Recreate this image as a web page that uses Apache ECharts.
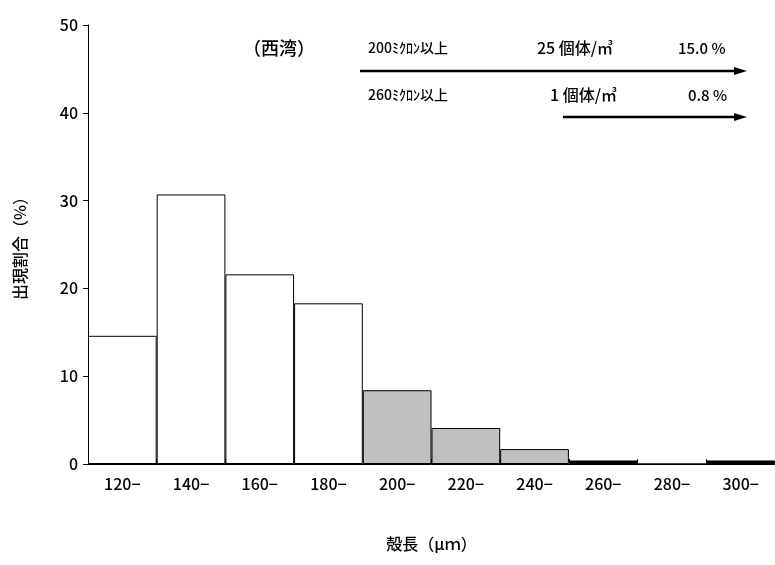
<!DOCTYPE html>
<html style="height: 100%">
<head><meta charset="utf-8"></head>
<body style="height: 100%; margin: 0">
<div id="container" style="height: 100%"></div>
<script src="https://cdn.jsdelivr.net/npm/echarts@6/dist/echarts.min.js"></script>
<script>
var categories = ['120−', '140−', '160−', '180−', '200−', '220−', '240−', '260−', '280−', '300−'];
var values = [14.6, 30.7, 21.6, 18.3, 8.4, 4.1, 1.7, 0.4, 0, 0.4];
var fills = ['#ffffff', '#ffffff', '#ffffff', '#ffffff', '#c0c0c0', '#c0c0c0', '#c0c0c0', '#000000', '#000000', '#000000'];

var font = '"Noto Sans CJK JP", sans-serif';
var myChart = echarts.init(document.getElementById('container'));

function arrow(x1, x2, y) {
    return [
        {type: 'line', shape: {x1: x1, y1: y, x2: x2 - 8, y2: y}, style: {stroke: '#000', lineWidth: 2.5}},
        {type: 'polygon', shape: {points: [[x2, y], [x2 - 13, y - 4], [x2 - 13, y + 4]]}, style: {fill: '#000'}}
    ];
}
function label(x, y, t, size) {
    return {type: 'text', x: x, y: y, style: {text: t, font: '500 ' + (size || 14) + 'px ' + font, fill: '#000', textVerticalAlign: 'middle'}};
}

var option = {
    animation: false,
    grid: {left: 88, right: 0, top: 25, bottom: 101},
    xAxis: {
        type: 'category', data: categories,
        axisLine: {lineStyle: {color: '#000'}},
        axisTick: {show: true, length: 5, inside: true, lineStyle: {color: '#000'}},
        axisLabel: {color: '#000', fontSize: 16, fontWeight: 500, fontFamily: font, margin: 12},
        name: '殻長（μｍ）', nameLocation: 'middle', nameGap: 72,
        nameTextStyle: {color: '#000', fontSize: 16, fontWeight: 500, fontFamily: font}
    },
    yAxis: {
        type: 'value', min: 0, max: 50, interval: 10,
        splitLine: {show: false},
        axisLine: {show: true, lineStyle: {color: '#000'}},
        axisTick: {show: true, length: 5, lineStyle: {color: '#000'}},
        axisLabel: {color: '#000', fontSize: 16, fontWeight: 500, fontFamily: font, margin: 10},
        name: '出現割合（%）', nameLocation: 'middle', nameGap: 60,
        nameTextStyle: {color: '#000', fontSize: 16, fontWeight: 500, fontFamily: font}
    },
    series: [{
        type: 'bar', barCategoryGap: 0,
        data: values.map(function (v, i) {
            return {value: v, itemStyle: {color: fills[i], borderColor: '#000', borderWidth: 1}};
        })
    }],
    graphic: [].concat(
        [label(243, 48, '（西湾）', 18),
         label(368, 48, '200ﾐｸﾛﾝ以上', 14),
         label(537, 48, '25 個体/㎥', 16),
         label(678, 48, '15.0 %', 15),
         label(368, 95, '260ﾐｸﾛﾝ以上', 14),
         label(550, 95, '1 個体/㎥', 16),
         label(688, 95, '0.8 %', 15)],
        arrow(360, 747, 71),
        arrow(563, 747, 117)
    )
};
myChart.setOption(option);
</script>
</body>
</html>
